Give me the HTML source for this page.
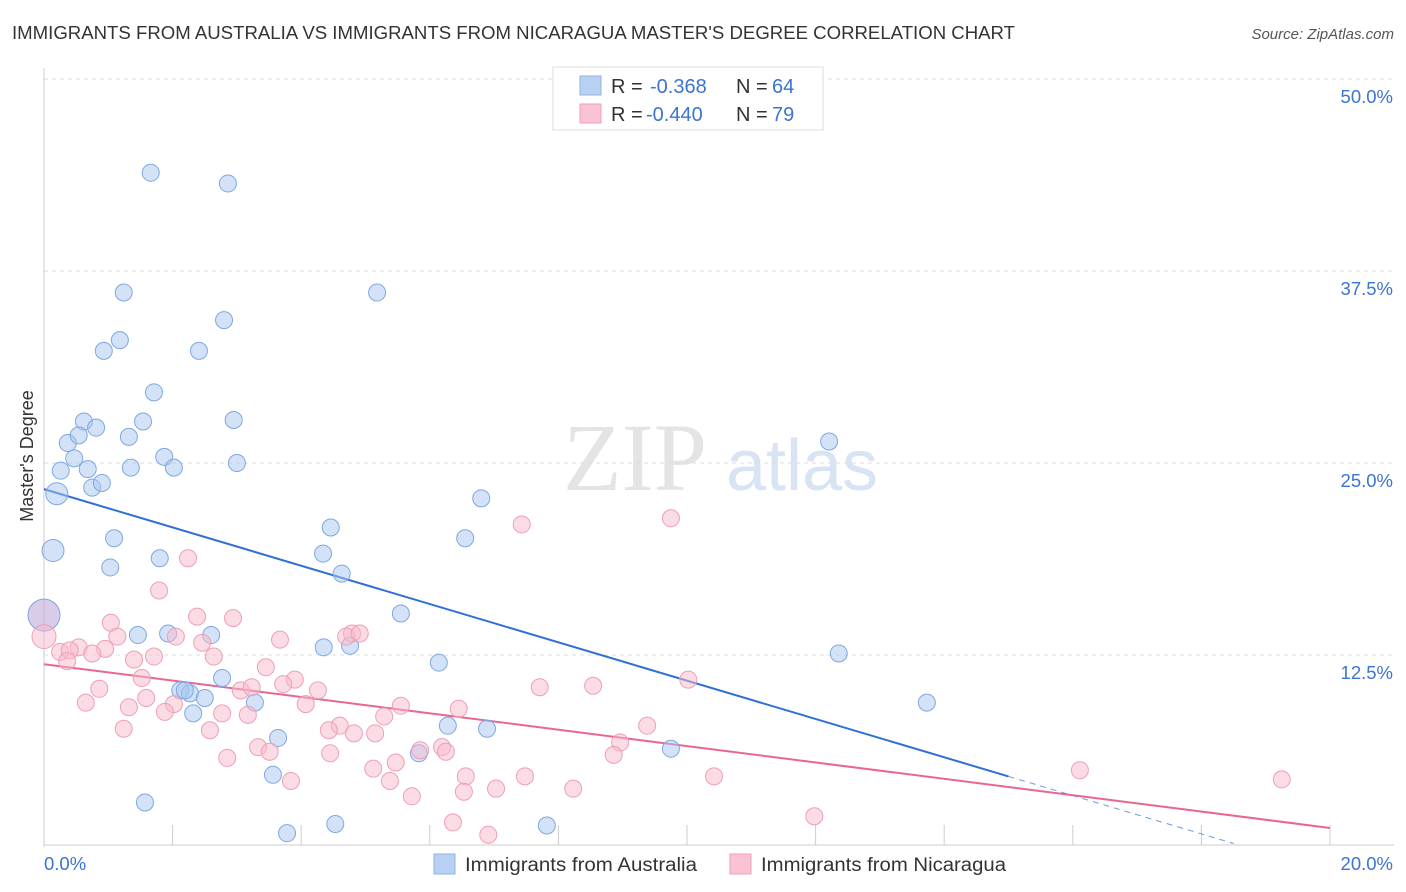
<!DOCTYPE html>
<html><head><meta charset="utf-8"><style>
body{margin:0;background:#fff;font-family:"Liberation Sans",sans-serif;}
svg{display:block}
</style></head><body>
<svg id="chart" width="1406" height="892">
<text x="12" y="39" font-size="18" fill="#333" textLength="1003" lengthAdjust="spacingAndGlyphs">IMMIGRANTS FROM AUSTRALIA VS IMMIGRANTS FROM NICARAGUA MASTER'S DEGREE CORRELATION CHART</text>
<text x="1394" y="39" font-size="15" fill="#555" font-style="italic" text-anchor="end">Source: ZipAtlas.com</text>
<text x="33" y="456" font-size="18" fill="#333" text-anchor="middle" transform="rotate(-90 33 456)">Master's Degree</text>
<g>
<text x="635" y="490" font-size="96" fill="#e4e4e4" font-family="Liberation Serif,serif" text-anchor="middle">ZIP</text>
<text x="802" y="490" font-size="72" fill="#d8e4f3" text-anchor="middle">atlas</text>
</g>
<g id="grid"></g><g id="axes"></g><g id="lines"></g><g id="pts"></g>
<g>
<rect x="553" y="67" width="270" height="63" fill="#fff" stroke="#ddd"/>
<rect x="580" y="76" width="21" height="19" fill="#b8d1f3" stroke="#8fb3e6"/>
<rect x="580" y="104" width="21" height="19" fill="#f9c3d3" stroke="#ee9fb7"/>
<text x="611" y="93" font-size="20" fill="#333">R =</text>
<text x="650" y="93" font-size="20" fill="#3b74d1">-0.368</text>
<text x="736" y="93" font-size="20" fill="#333">N =</text>
<text x="772" y="93" font-size="20" fill="#3b74d1">64</text>
<text x="611" y="121" font-size="20" fill="#333">R =</text>
<text x="646" y="121" font-size="20" fill="#3b74d1">-0.440</text>
<text x="736" y="121" font-size="20" fill="#333">N =</text>
<text x="772" y="121" font-size="20" fill="#3b74d1">79</text>
</g>
<g>
<rect x="434" y="854" width="21" height="20" fill="#b8d1f3" stroke="#8fb3e6"/>
<text x="465" y="871" font-size="19" fill="#333" textLength="232" lengthAdjust="spacingAndGlyphs">Immigrants from Australia</text>
<rect x="730" y="854" width="21" height="20" fill="#f9c3d3" stroke="#ee9fb7"/>
<text x="761" y="871" font-size="19" fill="#333" textLength="245" lengthAdjust="spacingAndGlyphs">Immigrants from Nicaragua</text>
</g>
</svg>
<script>
const yTicks=[12.5,25,37.5,50];
const yTickLabels=["12.5%","25.0%","37.5%","50.0%"];
const xTickLabels=["0.0%","20.0%"];
const blueX=[1.66,2.86,1.24,5.18,2.80,1.18,0.93,2.41,1.71,0.62,1.54,0.81,2.95,0.37,0.54,1.32,0.47,0.26,0.68,1.35,1.87,2.02,3.00,0.20,0.75,0.90,12.21,6.80,1.09,0.14,4.46,6.55,1.80,4.34,1.03,4.63,5.55,1.93,1.46,2.60,4.76,4.35,0,6.14,12.36,2.77,2.12,2.27,2.50,3.28,2.32,13.73,6.28,6.89,3.64,9.75,5.83,3.56,1.57,3.78,4.53,7.82,2.19];
const blueY=[43.9,43.2,36.1,36.1,34.3,33.0,32.3,32.3,29.6,27.7,27.7,27.3,27.8,26.3,26.8,26.7,25.3,24.5,24.6,24.7,25.4,24.7,25.0,23.0,23.4,23.7,26.4,22.7,20.1,19.3,20.8,20.1,18.8,19.1,18.2,17.8,15.2,13.9,13.8,13.8,13.1,13.0,15.1,12.0,12.6,11.0,10.2,10.0,9.7,9.4,8.7,9.4,7.9,7.7,7.1,6.4,6.1,4.7,2.9,0.9,1.5,1.4,10.2];
const pinkX=[0,1.04,2.24,1.79,2.38,2.94,1.14,2.05,3.67,4.79,4.70,4.91,0.54,0.25,0.95,0.40,0.75,1.71,1.40,2.46,2.64,3.45,0.36,3.90,1.52,0.86,3.06,3.23,3.72,4.26,7.71,8.54,10.02,7.43,9.75,0.65,1.59,1.32,2.02,1.88,4.07,5.55,6.45,2.77,3.17,5.29,1.24,2.58,4.60,4.43,4.82,9.38,5.15,8.96,3.33,3.51,5.85,6.19,6.25,2.85,4.45,5.47,5.12,8.86,10.42,6.56,7.48,3.84,5.38,6.53,7.03,8.23,5.72,16.11,19.25,11.98,6.36,6.91];
const pinkY=[13.7,14.6,18.8,16.7,15.0,14.9,13.7,13.7,13.5,13.9,13.7,13.9,13.0,12.7,12.9,12.8,12.6,12.4,12.2,13.3,12.4,11.7,12.1,10.9,11.0,10.3,10.2,10.4,10.6,10.2,10.4,10.5,10.9,21.0,21.4,9.4,9.7,9.1,9.3,8.8,9.3,9.2,9.0,8.7,8.6,8.5,7.7,7.6,7.9,7.6,7.4,7.9,7.4,6.8,6.5,6.2,6.3,6.5,6.2,5.8,6.1,5.5,5.1,6.0,4.6,4.6,4.6,4.3,4.3,3.6,3.8,3.8,3.3,5.0,4.4,2.0,1.6,0.8];
const blueTrend=[23.3,-1.247];
const pinkTrend=[11.9,-0.533];
const NS="http://www.w3.org/2000/svg";
const X0=44,X1=1330,Y0=847,Y1=79;
function sx(v){return X0+(v/20)*(X1-X0);}
function sy(v){return Y0-(v/50)*(Y0-Y1);}
function mk(tag,attrs,parent){const e=document.createElementNS(NS,tag);for(const k in attrs)e.setAttribute(k,attrs[k]);document.getElementById(parent).appendChild(e);return e;}
yTicks.forEach((t,i)=>{
 const l=mk('line',{x1:X0,x2:1394,y1:sy(t),y2:sy(t),stroke:'#ddd','stroke-dasharray':'4,4'},'grid');
 
 
 const tx=mk('text',{x:1393,y:sy(t)+24,'font-size':18.5,fill:'#3b74d1','text-anchor':'end'},'axes');
 tx.textContent=yTickLabels[i];
 
 
});
const ya=mk('line',{x1:X0,x2:X0,y1:68,y2:Y0,stroke:'#ccc'},'axes');


const xa=mk('line',{x1:X0,x2:1394,y1:Y0-2,y2:Y0-2,stroke:'#ccc'},'axes');


for(let i=0;i<=10;i++){
 const t=mk('line',{x1:sx(i*2),x2:sx(i*2),y1:Y0-2,y2:825,stroke:'#ccc'},'axes');
 
 
}
[[0,'start',X0],[1,'end',1393]].forEach(([i,a,x])=>{
 const tx=mk('text',{x:x,y:870,'font-size':18.5,fill:'#3b74d1','text-anchor':a},'axes');
 tx.textContent=xTickLabels[i];
 
 
});
const bl=mk('line',{x1:sx(0),y1:sy(blueTrend[0]),x2:sx(15),y2:sy(blueTrend[0]+blueTrend[1]*15),stroke:'#2f6fd6','stroke-width':2},'lines');


const bd=mk('line',{x1:sx(15),y1:sy(blueTrend[0]+blueTrend[1]*15),x2:sx(18.5),y2:sy(blueTrend[0]+blueTrend[1]*18.5),stroke:'#6f9ad9','stroke-width':1,'stroke-dasharray':'6,5'},'lines');


const pl=mk('line',{x1:sx(0),y1:sy(pinkTrend[0]),x2:sx(20),y2:sy(pinkTrend[0]+pinkTrend[1]*20),stroke:'#e8668f','stroke-width':2},'lines');


blueX.forEach((x,i)=>{
 let r=8.5;if(i===23||i===29)r=11;if(i===42)r=16;
 const c=mk('circle',{cx:sx(x),cy:sy(blueY[i]),r:r,fill:i===42?'rgba(190,170,220,0.6)':'rgba(168,198,240,0.5)',stroke:'#7ea8e3','stroke-width':1},'pts');
 
 
});
pinkX.forEach((x,i)=>{
 const r=i===0?12:8.5;
 const c=mk('circle',{cx:sx(x),cy:sy(pinkY[i]),r:r,fill:'rgba(248,186,204,0.5)',stroke:'#ee9fb7','stroke-width':1},'pts');
 
 
});
</script>
</body></html>
